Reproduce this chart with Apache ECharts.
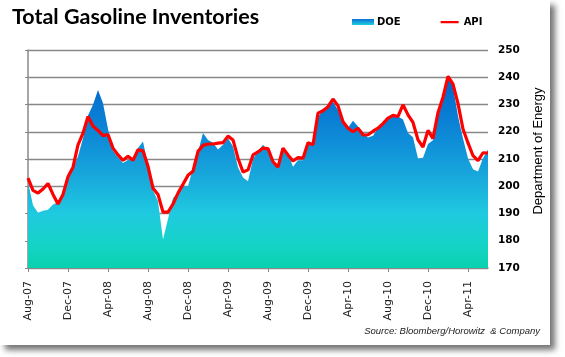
<!DOCTYPE html>
<html>
<head>
<meta charset="utf-8">
<script src="https://cdn.jsdelivr.net/npm/echarts@6/dist/echarts.min.js"></script>
<style>
html,body{margin:0;padding:0;background:#fff;}
#wrap{position:absolute;left:0;top:0;width:550px;height:345px;background:#fff;box-shadow:5px 5px 6px rgba(0,0,0,0.55);}
#chart{width:550px;height:345px;}
</style>
</head>
<body>
<div id="wrap"><div id="chart"></div></div>
<script>
// Half-month samples starting Aug-2007
const tickLabels = ['Aug-07','Dec-07','Apr-08','Aug-08','Dec-08','Apr-09','Aug-09','Dec-09','Apr-10','Aug-10','Dec-10','Apr-11'];
const doeValues = [
 201.5,193,190.3,191,191.4,193.3,194.2,196.3,202.3,206.7,
 211,217.6,226,229.9,235.3,230.5,221,213,210.6,208.5,
 209.6,210,214,216.4,207.5,198.5,194.5,180.5,188,195.7,
 197.5,200.2,200,206.7,212.5,219.5,217,216,213.5,215.2,
 217.6,214.6,207,203.2,201.8,210,212.8,215.2,212.8,208.5,
 206.5,213.4,212,207.2,209.5,209.5,215.3,215.2,225.6,227.5,
 229.2,231,228,223.5,221.5,224,221.9,219.8,217.9,218.5,
 221.3,223,224.4,225.6,225.6,224.5,219.5,218,210.2,210.5,
 215.5,216.9,225.7,231.3,240.8,236.5,225.8,217.5,210.2,206.2,
 205.4,210.3,213.5
];
const apiValues = [
 203,198.5,197.5,199,201,197,193.5,197,203.5,207,
 215.2,219.5,225.6,222,220.5,218.6,219,214,211.5,209.5,
 211,209.5,213.4,213,207.3,199.3,197,190.5,190.5,193.5,
 197.5,200.7,204,205.5,212.8,215,215.5,215.5,215.8,216,
 218.4,217,210.3,205.2,206,211.5,212.6,214,213.8,209,
 207,214,211.5,209.3,210.5,210.3,216,215.2,226.8,227.7,
 229.2,232,229.5,223.7,221.3,220,221.3,218.8,218.9,220.2,
 221.3,223,225,226,225.6,229.9,226.2,223.4,217,214.4,
 220.5,217.5,227,232.7,240.3,237.5,230.3,221,215.9,211.2,
 209.4,212.3,212.2
];
const yMin = 170, yMax = 250, yStep = 10;

const chart = echarts.init(document.getElementById('chart'));
const grad = new echarts.graphic.LinearGradient(0,0,0,1,[
  {offset:0,color:'#0064cc'},
  {offset:0.35,color:'#0f8ed8'},
  {offset:0.55,color:'#19acdc'},
  {offset:0.72,color:'#1fcae0'},
  {offset:0.87,color:'#16d3c8'},
  {offset:1,color:'#08d2ae'}
]);
const legGrad = new echarts.graphic.LinearGradient(0,0,0,1,[
  {offset:0,color:'#0a6fd4'},{offset:1,color:'#1fd0e0'}
]);
const cats = doeValues.map((_, i) => i);
const every = (i) => i % 8 === 0;
chart.setOption({
  animation:false,
  title:{text:'Total Gasoline Inventories',left:7,top:1,
    textStyle:{fontFamily:'Lato',fontWeight:'bold',fontSize:21.5,color:'#000'}},
  legend:{left:347,top:12,itemWidth:22,itemHeight:6,itemGap:40,
    textStyle:{fontFamily:'DejaVu Sans',fontWeight:'bold',fontSize:10,color:'#000',padding:[0,0,0,-2]},
    data:[{name:'DOE',icon:'rect',itemStyle:{color:legGrad}},
          {name:'API',icon:'path://M0,0 L0.01,0 L0.01,0.01 Z M0,2.5 L24,2.5 L24,5.5 L0,5.5 Z M24,8 L23.99,8 L23.99,7.99 Z',itemStyle:{color:'#ff0000'}}]},
  grid:{left:28,top:50,width:460,height:218,containLabel:false},
  xAxis:{type:'category',data:cats,boundaryGap:false,
    axisLine:{lineStyle:{color:'#888',width:1.5}},
    axisTick:{interval:every,length:4,lineStyle:{color:'#888'}},
    axisLabel:{interval:every,rotate:90,margin:13,fontFamily:'DejaVu Sans',fontSize:11,color:'#222',
      formatter:(v,i)=>tickLabels[i/8]||''},
    splitLine:{show:false}},
  yAxis:[
    {type:'value',position:'right',min:yMin,max:yMax,interval:yStep,
      axisLine:{show:false},axisTick:{show:false},
      axisLabel:{margin:10,fontFamily:'DejaVu Sans',fontWeight:'bold',fontSize:10.5,color:'#000'},
      splitLine:{lineStyle:{color:'#888',width:1.3}}},
    {type:'value',position:'left',min:yMin,max:yMax,interval:yStep,
      axisLine:{show:true,lineStyle:{color:'#888',width:1.5}},
      axisTick:{show:true,length:3,lineStyle:{color:'#888'}},
      axisLabel:{show:false},splitLine:{show:false}}
  ],
  series:[
    {name:'DOE',type:'line',data:doeValues,symbol:'none',
      lineStyle:{width:0},itemStyle:{color:'#0a6fd4'},
      areaStyle:{color:grad,opacity:1,origin:'start'},z:2},
    {name:'API',type:'line',data:apiValues,symbol:'none',
      lineStyle:{color:'#ff0000',width:3.2},itemStyle:{color:'#ff0000'},z:3}
  ],
  graphic:[
    {type:'text',x:538,y:151,rotation:Math.PI/2,
      style:{text:'Department of Energy',fontFamily:'Liberation Sans',fontSize:13,fill:'#000',
        textAlign:'center',textVerticalAlign:'middle'}},
    {type:'text',x:540,y:331,
      style:{text:'Source: Bloomberg/Horowitz  & Company',fontFamily:'Liberation Sans',fontStyle:'italic',fontSize:9.5,fill:'#222',
        textAlign:'right',textVerticalAlign:'middle'}}
  ]
});
</script>
</body>
</html>
